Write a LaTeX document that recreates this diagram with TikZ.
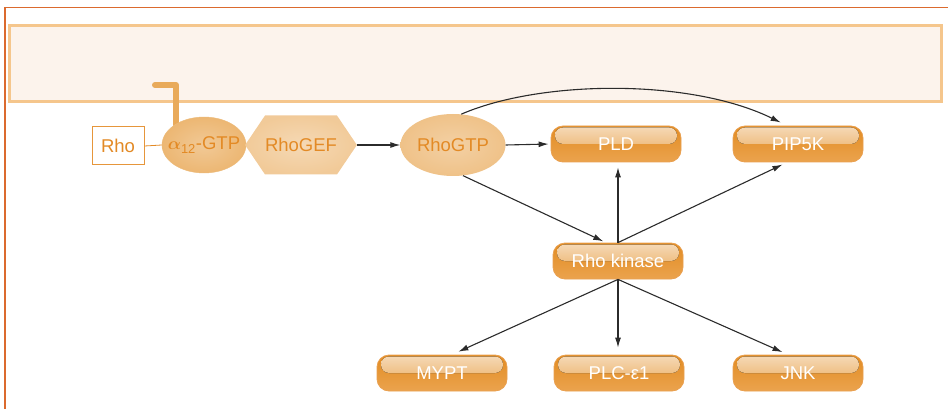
\documentclass[tikz,border=0pt]{standalone}
\usepackage{amsmath}
\usepackage{fontspec}
\setmainfont{Liberation Sans}
\usetikzlibrary{shapes.geometric,shapes.symbols,arrows.meta}

\definecolor{frameline}{HTML}{DB6A2E}
\definecolor{membfill}{HTML}{FCF3EC}
\definecolor{membline}{HTML}{F5C68C}
\definecolor{orangetext}{HTML}{E38A25}
\definecolor{anchorcol}{HTML}{E9AA5A}
\definecolor{pillorange}{HTML}{E28C22}
\definecolor{pilledge}{HTML}{E9A050}
\definecolor{pilllow}{HTML}{EBA34E}
\definecolor{arrowcol}{HTML}{2B2B2B}

\tikzset{
  pill/.style={rounded corners=12pt, minimum width=130pt, minimum height=36pt,
    draw=pilledge, line width=0.8pt, top color=pillorange, middle color=pillorange,
    bottom color=pilllow, text=white, inner sep=0pt,
    path picture={\fill[rounded corners=8pt, top color=white!68!pillorange,
        bottom color=white!22!pillorange]
      ([xshift=4pt,yshift=-1.5pt]path picture bounding box.north west) rectangle
      ([xshift=-4pt,yshift=-18pt]path picture bounding box.north east);}},
  gprot/.style={ellipse, inner sep=0pt, text=orangetext},
  arrow/.style={-{Latex[length=10pt,width=6pt]}, color=arrowcol, line width=1.1pt}
}

\begin{document}
\begin{tikzpicture}[x=1pt, y=-1pt, font=\fontsize{18.5}{20}\selectfont]
  \useasboundingbox (0,0) rectangle (948,409);

  % cell outline and membrane
  \draw[frameline, line width=1.6pt] (5,409) -- (5,7.5) -- (948,7.5);
  \draw[membline, fill=membfill, line width=3pt] (9,25.5) rectangle (941,102);

  % membrane anchor of the G protein
  \draw[anchorcol, line width=6pt, line cap=round, line join=round]
    (176,125) -- (176,85) -- (155,85);

  % upstream part
  \node[draw=orangetext!90, line width=1pt, fill=white, text=orangetext,
    minimum width=52pt, minimum height=38pt, inner sep=0pt] (rho) at (118,146) {Rho};
  \node[gprot, inner xsep=-7pt, minimum width=84pt, minimum height=56pt, draw=anchorcol!80,
    inner color=white!25!anchorcol!85, outer color=anchorcol!85] (galpha) at (204,145)
    {$\boldsymbol{\alpha}$\textsubscript{12}-GTP};
  \node[signal, signal to=west and east, signal pointer angle=112, inner sep=0pt,
    minimum width=111pt, minimum height=59pt, text=orangetext,
    inner color=white!55!anchorcol, outer color=white!38!anchorcol] (gef) at (301,145) {RhoGEF};
  \node[gprot, minimum width=105pt, minimum height=62pt,
    inner color=white!45!anchorcol, outer color=white!28!anchorcol] (rhogtp) at (453,145) {RhoGTP};

  % effectors
  \node[pill] (pld) at (616,144) {PLD};
  \node[pill] (pipk) at (798,144) {PIP5K};
  \node[pill] (rock) at (618,261) {Rho kinase};
  \node[pill] (mypt) at (442,373) {MYPT};
  \node[pill] (plc) at (619,373) {PLC-ε1};
  \node[pill] (jnk) at (798,373) {JNK};

  % connectors
  \draw[orangetext, line width=0.8pt] (rho.east) -- (galpha.west);
  \draw[arrow] (gef.east) -- (rhogtp.west);
  \draw[arrow, shorten >=2pt] (rhogtp.east) -- (pld.west);
  % Curved arrow
  \draw[arrow, shorten >=7pt] (rhogtp.75) .. controls (540,80) and (690,78) .. ([xshift=-11pt]pipk.north);
  \draw[arrow, shorten >=3pt] (rhogtp.-72) -- ([xshift=-12pt]rock.north);
  \draw[arrow, shorten >=5pt] (rock.north) -- (rock.north |- pld.south);
  \draw[arrow, shorten >=5pt] (rock.north) -- ([xshift=-11pt]pipk.south);
  \draw[arrow, shorten >=7pt] (rock.south) -- ([xshift=10pt]mypt.north);
  \draw[arrow, shorten >=7pt] (rock.south) -- (rock.south |- plc.north);
  \draw[arrow, shorten >=6pt] (rock.south) -- ([xshift=-10pt]jnk.north);
\end{tikzpicture}
\end{document}
